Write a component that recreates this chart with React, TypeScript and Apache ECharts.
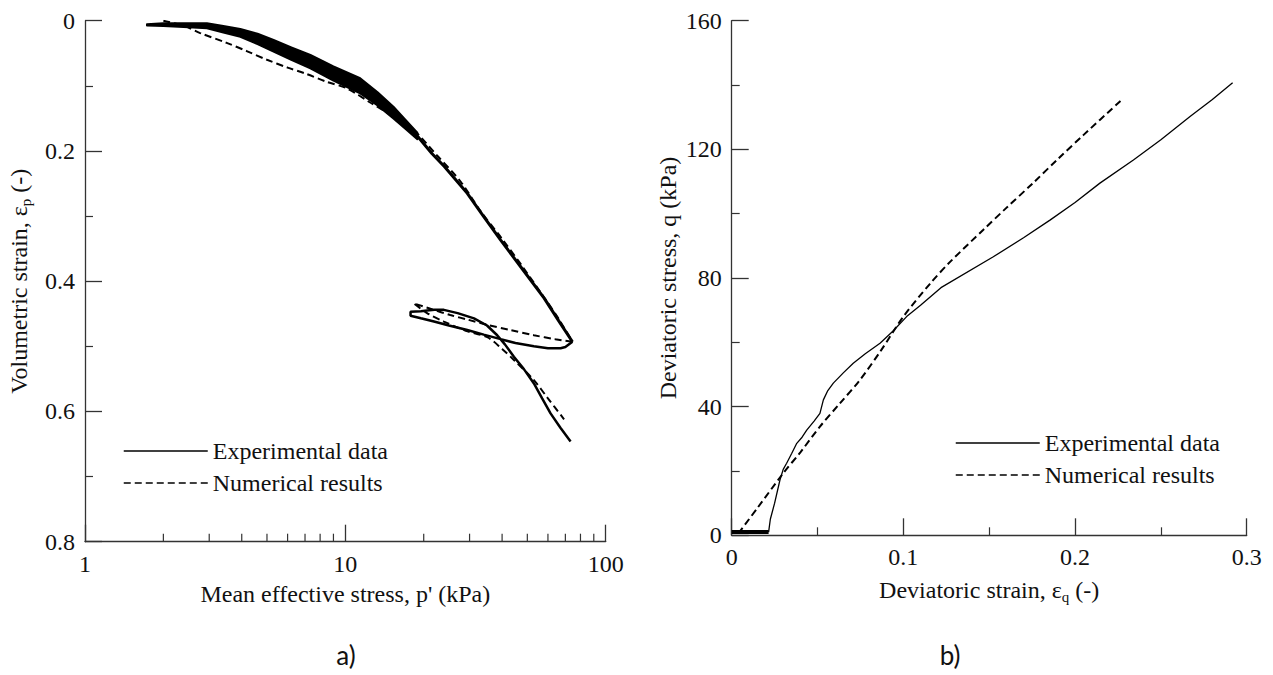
import React, { useEffect, useRef } from "react";
import * as echarts from "echarts";

// ---------- Data: (a) volumetric strain vs mean effective stress ----------
// Experimental loading: noisy band at low stress (upper and lower edge of the band)
const bandP = [1.73, 2.0, 2.5, 2.94, 3.4, 3.95, 4.6, 5.3, 6.2, 7.34, 9.0, 11.4, 13.3, 15.3, 17.0, 18.9];
const bandTopE = [0.0055, 0.004, 0.004, 0.004, 0.008, 0.0127, 0.020, 0.0296, 0.041, 0.0527, 0.070, 0.0884, 0.110, 0.132, 0.152, 0.172];
const bandBottomE = [0.0075, 0.008, 0.010, 0.0117, 0.018, 0.0246, 0.036, 0.0476, 0.060, 0.0731, 0.092, 0.1115, 0.130, 0.150, 0.166, 0.182];
// Experimental loading branch beyond the band
const expLoadP = [18.9, 21.5, 24, 29.4, 34, 39.5, 48, 58, 66, 74.5];
const expLoadE = [0.177, 0.204, 0.224, 0.265, 0.301, 0.337, 0.382, 0.426, 0.461, 0.493];
// Experimental unloading / reloading loop
const expLoopP = [74.5, 70, 67.1, 60, 53, 45, 39.5, 34, 29.4, 25, 21.9, 19.5, 17.8, 17.8, 19.5, 20.6, 22, 23.9, 27, 31.2, 35, 38.3, 41, 44.4, 48.5, 53, 57, 61.4, 67, 73.3];
const expLoopE = [0.493, 0.501, 0.503, 0.503, 0.500, 0.495, 0.489, 0.482, 0.475, 0.468, 0.462, 0.457, 0.453, 0.447, 0.446, 0.445, 0.444, 0.444, 0.449, 0.457, 0.468, 0.483, 0.497, 0.516, 0.535, 0.557, 0.580, 0.603, 0.625, 0.646];
// Numerical loading branch
const numLoadP = [2.0, 2.4, 2.77, 3.5, 4.2, 5.0, 6.0, 7.0, 8.5, 10.15, 12.5, 15, 18.3, 22.5, 27.7, 33, 40, 48, 58, 66, 74.5];
const numLoadE = [0.0, 0.008, 0.019, 0.034, 0.047, 0.060, 0.072, 0.081, 0.094, 0.104, 0.126, 0.145, 0.168, 0.207, 0.247, 0.292, 0.335, 0.378, 0.425, 0.458, 0.493];
// Numerical unloading / reloading loop
const numLoopP = [74.5, 64, 53, 43, 35.1, 29.5, 25.3, 21.5, 18.3, 20.6, 23.9, 29, 35.1, 40, 44.4, 53, 60, 69.2];
const numLoopE = [0.493, 0.489, 0.483, 0.475, 0.467, 0.459, 0.452, 0.443, 0.434, 0.449, 0.462, 0.476, 0.486, 0.504, 0.521, 0.552, 0.580, 0.612];

// Log-axis minor tick positions
const logMinorTicks = [2, 3, 4, 5, 6, 7, 8, 9, 20, 30, 40, 50, 60, 70, 80, 90];

// ---------- Data: (b) deviatoric stress vs deviatoric strain ----------
const expInitEq = [0, 0.0215];
const expInitQ = [1, 1];
const expEq = [0.0215, 0.0225, 0.025, 0.0281, 0.030, 0.032, 0.035, 0.0379, 0.041, 0.0437, 0.048, 0.0514, 0.0534, 0.056, 0.0592, 0.065, 0.0708, 0.078, 0.0864, 0.094, 0.1019, 0.11, 0.1219, 0.1524, 0.17, 0.1854, 0.2, 0.2145, 0.234, 0.25, 0.267, 0.28, 0.2918];
const expQ = [1, 5, 10, 17.2, 20.5, 22.4, 25.5, 28.6, 30.5, 32.7, 35.5, 37.9, 42.1, 45, 47.3, 50.5, 53.5, 56.5, 59.7, 63.5, 68, 71.5, 77, 86.6, 92.5, 98.0, 103.5, 109.5, 116.7, 123, 130.2, 135.5, 140.7];
const numEq = [0.0039, 0.015, 0.030, 0.040, 0.0514, 0.063, 0.0747, 0.087, 0.1, 0.1155, 0.1272, 0.1466, 0.16, 0.1757, 0.19, 0.205, 0.2272];
const numQ = [0.6, 8.5, 19.3, 25.8, 33.8, 41, 48.3, 57.5, 68, 78.2, 85.0, 95.0, 101.8, 109.6, 117, 124.5, 135.4];

const legendNames = ["Experimental data", "Numerical results"];

const zip = (a: number[], b: number[]) => a.map((v, i) => [v, b[i]]);

const SERIF = '"Liberation Serif", "Times New Roman", serif';
const SANS = 'Lato, "Open Sans", sans-serif';
const INK = "#111";
const AXIS = "#333";

export default function App() {
  const ref = useRef<HTMLDivElement>(null);
  useEffect(() => {
    if (!ref.current) return;
    const chart = echarts.init(ref.current, null, { renderer: "svg" });
    const labelStyle = {
      fontSize: 24,
      fontFamily: SERIF,
      color: INK,
      margin: 10,
      formatter: (v: number) => "{t|" + String(v) + "}",
      rich: { t: { fontSize: 24, fontFamily: SERIF, color: INK } },
    };
    const nameStyle = {
      fontSize: 24,
      fontFamily: SERIF,
      color: INK,
      rich: {
        sub: { fontSize: 15, fontFamily: SERIF, color: INK, padding: [14, 0, 0, 0] },
      },
    };
    const axisLine = { show: true, onZero: false, lineStyle: { color: AXIS, width: 1.3 } };
    const axisTick = { show: true, inside: true, length: 17, lineStyle: { color: AXIS, width: 1.3 } };
    const minorTick = { show: true, splitNumber: 2, length: 8, lineStyle: { color: AXIS, width: 1.2 } };
    const dash = [7, 4];
    const legendCommon = {
      orient: "vertical",
      itemWidth: 84,
      itemHeight: 14,
      itemGap: 8,
      itemTextGap: 8,
      selectedMode: false,
      data: legendNames,
      itemStyle: { opacity: 0 },
      lineStyle: { width: 1.5 },
      textStyle: { fontSize: 24, fontFamily: SERIF, color: INK },
    };
    const black = { color: "#000" };
    chart.setOption({
      animation: false,
      backgroundColor: "#fff",
      color: ["#000"],
      textStyle: { fontFamily: SERIF, color: INK },
      grid: [
        { left: 85, top: 20.7, width: 520.7, height: 521, outerBoundsMode: "none" },
        { left: 731.7, top: 20.7, width: 515, height: 514.6, outerBoundsMode: "none" },
      ],
      legend: [
        { ...legendCommon, left: 118, top: 434 },
        { ...legendCommon, left: 950, top: 426 },
      ],
      xAxis: [
        {
          gridIndex: 0,
          type: "log",
          logBase: 10,
          min: 1,
          max: 100,
          position: "bottom",
          name: "Mean effective stress, p' (kPa)",
          nameLocation: "middle",
          nameGap: 40,
          nameTextStyle: nameStyle,
          axisLine,
          axisTick,
          axisLabel: labelStyle,
          splitLine: { show: false },
        },
        {
          gridIndex: 1,
          type: "value",
          min: 0,
          max: 0.3,
          interval: 0.1,
          position: "bottom",
          name: "Deviatoric strain, ε{sub|q} (-)",
          nameLocation: "middle",
          nameGap: 40,
          nameTextStyle: nameStyle,
          axisLine,
          axisTick,
          minorTick,
          axisLabel: labelStyle,
          splitLine: { show: false },
          minorSplitLine: { show: false },
        },
      ],
      yAxis: [
        {
          gridIndex: 0,
          type: "value",
          inverse: true,
          min: 0,
          max: 0.8,
          interval: 0.2,
          position: "left",
          name: "Volumetric strain, ε{sub|p} (-)",
          nameLocation: "middle",
          nameGap: 52,
          nameTextStyle: nameStyle,
          axisLine,
          axisTick,
          minorTick,
          axisLabel: labelStyle,
          splitLine: { show: false },
          minorSplitLine: { show: false },
        },
        {
          gridIndex: 1,
          type: "value",
          min: 0,
          max: 160,
          interval: 40,
          position: "left",
          name: "Deviatoric stress, q (kPa)",
          nameLocation: "middle",
          nameGap: 52,
          nameTextStyle: nameStyle,
          axisLine,
          axisTick,
          minorTick,
          axisLabel: labelStyle,
          splitLine: { show: false },
          minorSplitLine: { show: false },
        },
      ],
      series: [
        // ----- panel b -----
        {
          name: "Experimental data",
          type: "line",
          xAxisIndex: 1,
          yAxisIndex: 1,
          data: zip(expEq, expQ),
          symbol: "none",
          itemStyle: black,
          lineStyle: { color: "#000", width: 1.3 },
        },
        {
          name: "Numerical results",
          type: "line",
          xAxisIndex: 1,
          yAxisIndex: 1,
          data: zip(numEq, numQ),
          symbol: "none",
          smooth: 0.3,
          itemStyle: black,
          lineStyle: { color: "#000", width: 2, type: dash },
        },
        {
          name: "Experimental data",
          type: "line",
          xAxisIndex: 1,
          yAxisIndex: 1,
          data: zip(expInitEq, expInitQ),
          symbol: "none",
          clip: false,
          itemStyle: black,
          lineStyle: { color: "#000", width: 4 },
        },
        // ----- panel a -----
        {
          // noisy experimental band, drawn as a filled polygon through the axes' scales
          type: "custom",
          xAxisIndex: 0,
          yAxisIndex: 0,
          silent: true,
          data: [[bandP[0], bandTopE[0]]],
          renderItem: (params: any, api: any) => {
            const top = bandP.map((p, i) => api.coord([p, bandTopE[i]]));
            const bottom = bandP.map((p, i) => api.coord([p, bandBottomE[i]])).reverse();
            return {
              type: "polygon",
              shape: { points: top.concat(bottom) },
              style: { fill: "#000", stroke: "#000", lineWidth: 2, lineJoin: "round" },
            };
          },
        },
        {
          name: "Experimental data",
          type: "line",
          xAxisIndex: 0,
          yAxisIndex: 0,
          data: zip(expLoadP, expLoadE),
          symbol: "none",
          itemStyle: black,
          lineStyle: { color: "#000", width: 3 },
        },
        {
          name: "Experimental data",
          type: "line",
          xAxisIndex: 0,
          yAxisIndex: 0,
          data: zip(expLoopP, expLoopE),
          symbol: "none",
          itemStyle: black,
          lineStyle: { color: "#000", width: 2.5 },
        },
        {
          name: "Numerical results",
          type: "line",
          xAxisIndex: 0,
          yAxisIndex: 0,
          data: zip(numLoadP, numLoadE),
          symbol: "none",
          smooth: 0.3,
          itemStyle: black,
          lineStyle: { color: "#000", width: 2, type: dash },
        },
        {
          name: "Numerical results",
          type: "line",
          xAxisIndex: 0,
          yAxisIndex: 0,
          data: zip(numLoopP, numLoopE),
          symbol: "none",
          smooth: 0.3,
          itemStyle: black,
          lineStyle: { color: "#000", width: 2, type: dash },
        },
        {
          type: "custom",
          xAxisIndex: 0,
          yAxisIndex: 0,
          silent: true,
          clip: false,
          data: logMinorTicks.map((v) => [v, 0.8]),
          renderItem: (params: any, api: any) => {
            const pt = api.coord([api.value(0), api.value(1)]);
            return {
              type: "line",
              shape: { x1: pt[0], y1: pt[1], x2: pt[0], y2: pt[1] - 8 },
              style: { stroke: AXIS, lineWidth: 1.2 },
            };
          },
        },
      ],
      graphic: [
        {
          type: "text",
          x: 346,
          y: 655,
          style: { text: "a)", fontSize: 26, fontFamily: SANS, fill: INK, textAlign: "center", textVerticalAlign: "middle" },
        },
        {
          type: "text",
          x: 950,
          y: 655,
          style: { text: "b)", fontSize: 26, fontFamily: SANS, fill: INK, textAlign: "center", textVerticalAlign: "middle" },
        },
      ],
    });
    return () => chart.dispose();
  }, []);
  return (
    <div
      ref={ref}
      style={{ position: "fixed", left: 0, top: 0, width: 1273, height: 675, background: "#fff" }}
    />
  );
}
